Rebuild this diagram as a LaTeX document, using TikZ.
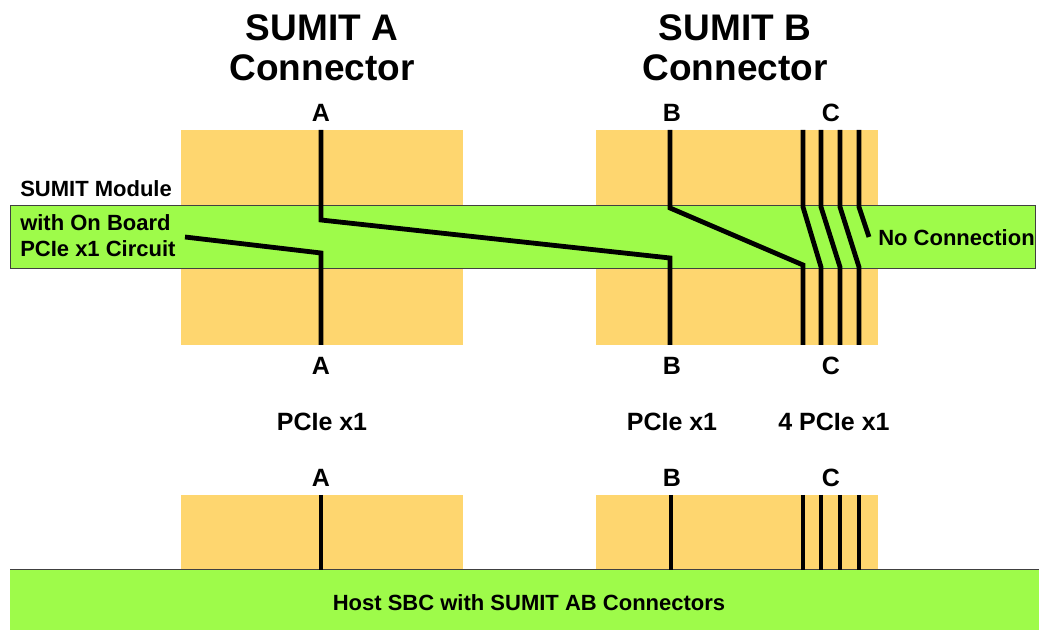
\documentclass[tikz,border=0pt]{standalone}
\usepackage{fontspec}
\setmainfont{Liberation Sans}
\definecolor{connOrange}{RGB}{254,214,111}
\definecolor{boardGreen}{RGB}{158,251,74}
\tikzset{
  connbox/.style={fill=connOrange, draw=none},
  board/.style={fill=boardGreen, draw=black!75, line width=0.75pt},
  pin/.style={line width=3.6pt},
  hostpin/.style={line width=3.2pt},
  titletext/.style={font=\bfseries\fontsize{27.75}{30}\selectfont, align=center, inner sep=0pt},
  pinlabel/.style={font=\bfseries\fontsize{18.75}{20}\selectfont, inner sep=0pt},
  notetext/.style={font=\bfseries\fontsize{16.5}{19.5}\selectfont, align=left, inner sep=0pt},
}
\begin{document}
\begin{tikzpicture}[x=0.75pt,y=0.75pt,yscale=-1,xscale=1]
	\useasboundingbox (0,0) rectangle (1039,630);

	% Connector bodies, module side
	\fill[connbox] (181,130) rectangle (463,345);
	\fill[connbox] (596,130) rectangle (878,345);
	% SUMIT module board
	\draw[board] (10,206) rectangle (1035,269);
	% Connector bodies, host side
	\fill[connbox] (181,495) rectangle (463,570);
	\fill[connbox] (596,495) rectangle (878,570);
	% Host board
	\draw[board] (10,660) -- (10,570) -- (1060,570);
	\fill[boardGreen] (10.4,570.4) rectangle (1060,660);

	% Titles
	\node[titletext] (titleA) at (322,48) {SUMIT A\\Connector};
	\node[titletext] (titleB) at (735,48) {SUMIT B\\Connector};

	% Pin labels
	\node[pinlabel] (lblAtop) at (321,113) {A};
	\node[pinlabel] (lblBtop) at (672,113) {B};
	\node[pinlabel] (lblCtop) at (831,113) {C};
	\node[pinlabel] (lblAmid) at (321,366) {A};
	\node[pinlabel] (lblBmid) at (672,366) {B};
	\node[pinlabel] (lblCmid) at (831,366) {C};
	\node[pinlabel] (busA) at (322,422) {PCIe x1};
	\node[pinlabel] (busB) at (672,422) {PCIe x1};
	\node[pinlabel] (busC) at (834,422) {4 PCIe x1};
	\node[pinlabel] (lblAbot) at (321,478) {A};
	\node[pinlabel] (lblBbot) at (672,478) {B};
	\node[pinlabel] (lblCbot) at (831,478) {C};

	% Board texts
	\node[notetext, anchor=west] (module) at (20,189) {SUMIT Module};
	\node[notetext, anchor=west] (circuit) at (20,236) {with On Board\\PCIe x1 Circuit};
	\node[notetext, anchor=west] (nocon) at (878,238) {No Connection};
	\node[notetext] (host) at (529,603) {Host SBC with SUMIT AB Connectors};

	% Pin points
	\coordinate (aUp) at (321,130);   \coordinate (aUpBend) at (321,220);
	\coordinate (aLo) at (321,345);   \coordinate (aLoBend) at (321,253);
	\coordinate (bUp) at (670,130);   \coordinate (bUpBend) at (670,208);
	\coordinate (bLo) at (670,345);   \coordinate (bLoBend) at (670,258);
	\coordinate (bToC) at (803,265);
	\coordinate (cktEnd) at (185,237);
	\coordinate (ncEnd) at (869,237);
	\foreach \i/\x in {1/803,2/821,3/840,4/859}{
		\coordinate (c\i Up) at (\x,130);
		\coordinate (c\i UpBend) at (\x,207);
		\coordinate (c\i Lo) at (\x,345);
		\coordinate (c\i LoBend) at (\x,267);
	}

	% Module traces
	\draw[pin] (aUp) -- (aUpBend) -- (bLoBend) -- (bLo);
	\draw[pin] (cktEnd) -- (aLoBend) -- (aLo);
	\draw[pin] (bUp) -- (bUpBend) -- (bToC) -- (c1Lo);
	\draw[pin] (c1Up) -- (c1UpBend) -- (c2LoBend) -- (c2Lo);
	\draw[pin] (c2Up) -- (c2UpBend) -- (c3LoBend) -- (c3Lo);
	\draw[pin] (c3Up) -- (c3UpBend) -- (c4LoBend) -- (c4Lo);
	\draw[pin] (c4Up) -- (c4UpBend) -- (ncEnd);

	% Host pins
	\foreach \x in {321,671,803,821,840,859}{
		\coordinate (h\x Top) at (\x,495);
		\coordinate (h\x Bot) at (\x,570);
		\draw[hostpin] (h\x Top) -- (h\x Bot);
	}
\end{tikzpicture}
\end{document}
